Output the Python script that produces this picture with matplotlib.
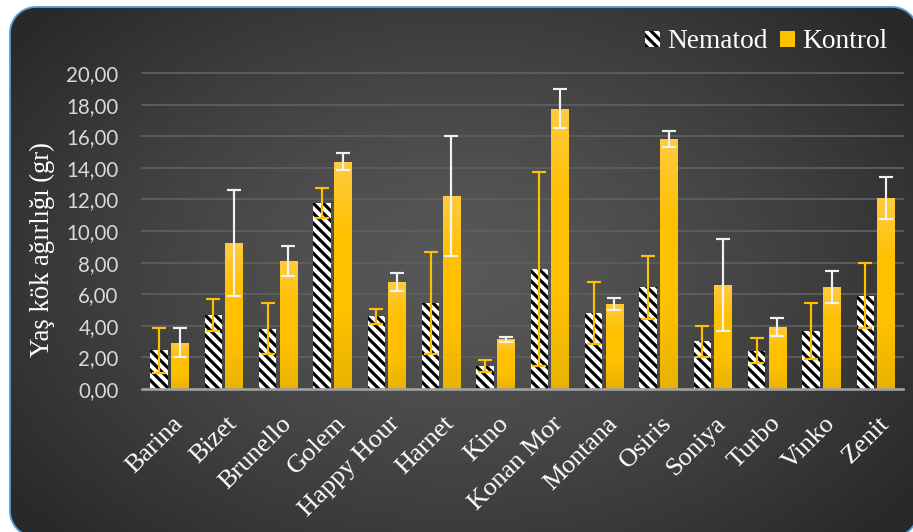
import numpy as np
import matplotlib
matplotlib.use("Agg")
import matplotlib.pyplot as plt
from matplotlib.patches import Polygon, Patch
from matplotlib.colors import LinearSegmentedColormap

# Root fresh weight per variety (g), mean and error
categories = ["Barina", "Bizet", "Brunello", "Golem", "Happy Hour", "Harnet", "Kino",
              "Konan Mor", "Montana", "Osiris", "Soniya", "Turbo", "Vinko", "Zenit"]
nematod = [2.44, 4.68, 3.82, 11.77, 4.60, 5.42, 1.43, 7.59, 4.81, 6.43, 3.01, 2.42, 3.69, 5.90]
nematod_err = [1.44, 1.03, 1.60, 0.97, 0.47, 3.23, 0.38, 6.13, 1.96, 1.98, 0.98, 0.80, 1.78, 2.07]
kontrol = [2.93, 9.24, 8.12, 14.37, 6.77, 12.22, 3.16, 17.74, 5.40, 15.84, 6.60, 3.94, 6.47, 12.11]
kontrol_err = [0.90, 3.33, 0.94, 0.54, 0.55, 3.78, 0.16, 1.24, 0.38, 0.50, 2.91, 0.57, 1.01, 1.33]
yticks = np.arange(0, 21, 2)

DPI = 120
W, H = 913, 532
plt.rcParams["hatch.linewidth"] = 1.9
plt.rcParams["hatch.color"] = "black"

fig = plt.figure(figsize=(W / DPI, H / DPI), dpi=DPI, facecolor="white")


def rounded_rect(x0, y0, x1, y1, r, n=24):
    """Outline of a rounded rectangle in pixel coordinates (y measured from the top)."""
    pts = []
    for cx, cy, a0 in [(x1 - r, y0 + r, -90), (x1 - r, y1 - r, 0),
                       (x0 + r, y1 - r, 90), (x0 + r, y0 + r, 180)]:
        a = np.radians(np.linspace(a0, a0 + 90, n))
        pts.append(np.column_stack([cx + r * np.cos(a), cy + r * np.sin(a)]))
    return np.vstack(pts)


# ---- rounded dark panel with radial gradient (pixel coordinates, y down) ----
bg = fig.add_axes([0, 0, 1, 1])
bg.axis("off")
yy, xx = np.mgrid[0:H, 0:W]
d = np.sqrt(((xx - 460) / 560.0) ** 2 + ((yy - 270) / 380.0) ** 2)
t = np.clip(d, 0, 1) ** 1.3
light = np.array([0x58, 0x58, 0x58]) / 255
dark = np.array([0x29, 0x29, 0x29]) / 255
img = light[None, None, :] * (1 - t[..., None]) + dark[None, None, :] * t[..., None]
im = bg.imshow(img, extent=(0, W, H, 0), aspect="auto", zorder=1)
panel = Polygon(rounded_rect(10, 7, 918, 537, 26), closed=True, facecolor="none",
                edgecolor="#5B9BD5", linewidth=1.1, zorder=3, clip_on=False)
bg.add_patch(panel)
im.set_clip_path(panel)
bg.set_autoscale_on(False)
bg.set_xlim(0, W)
bg.set_ylim(H, 0)

# ---- main chart ----
ax = fig.add_axes([142 / W, 1 - 389 / H, (903 - 142) / W, (389 - 73) / H])
ax.set_facecolor("none")
x = np.arange(len(categories))
bw = 0.32
off = 0.19

ax.bar(x - off, nematod, bw, facecolor="white", edgecolor="black",
       linewidth=0, hatch="\\\\\\\\", zorder=3)
kon_bars = ax.bar(x + off, kontrol, bw, color="#FFC000", linewidth=0, zorder=3)

# vertical gold gradient on the control bars
gold = LinearSegmentedColormap.from_list("gold", ["#E8B300", "#FFC000", "#FFC000", "#FFCB40"])
grad = np.linspace(0, 1, 256).reshape(-1, 1)
for b in kon_bars:
    x0, h = b.get_x(), b.get_height()
    gi = ax.imshow(grad, cmap=gold, origin="lower", aspect="auto",
                   extent=(x0, x0 + b.get_width(), 0, h), zorder=3.1)
    gi.set_clip_path(b)

ax.errorbar(x - off, nematod, yerr=nematod_err, fmt="none", ecolor="#FFC000",
            elinewidth=1.3, capsize=4.3, capthick=1.3, zorder=4)
ax.errorbar(x + off, kontrol, yerr=kontrol_err, fmt="none", ecolor="#F2F2F2",
            elinewidth=1.3, capsize=4.3, capthick=1.3, zorder=4)

ax.set_xlim(-0.5, len(categories) - 0.5)
ax.set_ylim(0, 20)
ax.set_yticks(yticks)
ax.set_yticklabels([f"{v:.2f}".replace(".", ",") for v in yticks],
                   fontfamily="Lato", fontsize=12.3, color="#D9D9D9")
ax.tick_params(axis="y", length=0, pad=14)
ax.set_xticks(x + 0.04)
ax.set_xticklabels(categories, rotation=45, ha="right", rotation_mode="anchor",
                   fontfamily="Liberation Serif", fontsize=15.8, color="white")
ax.tick_params(axis="x", length=0, pad=14)

for v in yticks[1:]:
    ax.axhline(v, color="#5E5E5E", linewidth=1.1, zorder=1, clip_on=False)
for s in ["top", "right", "left"]:
    ax.spines[s].set_visible(False)
ax.spines["bottom"].set_color("#A0A0A0")
ax.spines["bottom"].set_linewidth(1.6)
ax.spines["bottom"].set_zorder(5)

fig.text(42 / W, 1 - 250 / H, "Yaş kök ağırlığı (gr)", rotation=90, ha="center", va="center",
         fontfamily="Liberation Serif", fontsize=16, color="white")

handles = [Patch(facecolor="white", edgecolor="black", linewidth=0, hatch="\\\\\\\\"),
           Patch(facecolor="#FFC000", linewidth=0)]
fig.legend(handles, ["Nematod", "Kontrol"], loc="center right",
           bbox_to_anchor=(887 / W, 1 - 42 / H), ncol=2, frameon=False,
           prop={"family": "Liberation Serif", "size": 16.4},
           handlelength=0.55, handleheight=0.55, handletextpad=0.25,
           columnspacing=0.45, borderpad=0, borderaxespad=0, labelcolor="white")

fig.savefig("out.png", dpi=DPI, facecolor="white")
